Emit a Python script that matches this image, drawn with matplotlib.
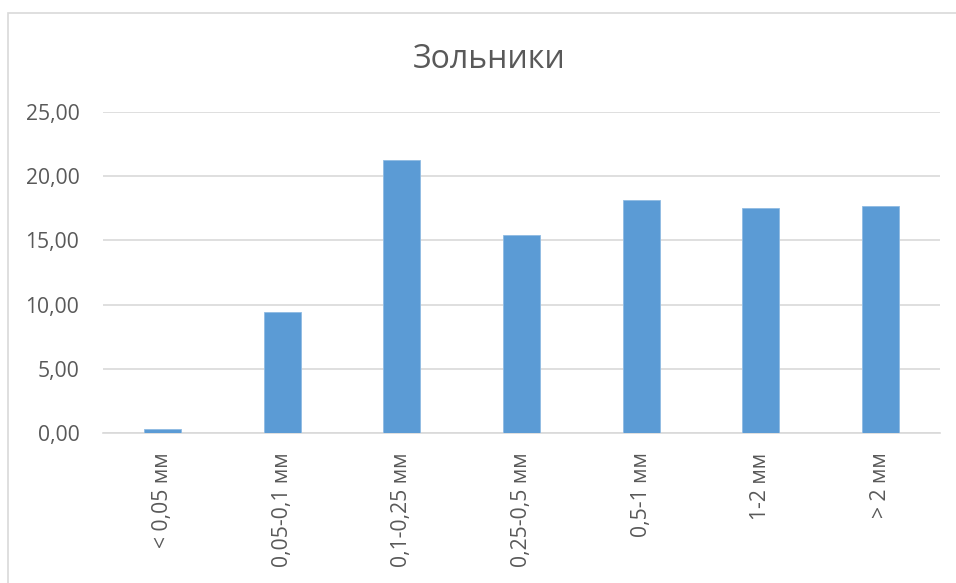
import matplotlib
matplotlib.use("Agg")
import matplotlib.pyplot as plt
from matplotlib.patches import Rectangle
from matplotlib.ticker import FuncFormatter, MultipleLocator

categories = ["< 0,05 мм", "0,05-0,1 мм", "0,1-0,25 мм", "0,25-0,5 мм",
              "0,5-1 мм", "1-2 мм", "> 2 мм"]
values = [0.31, 9.42, 21.28, 15.44, 18.17, 17.50, 17.70]
title = "Зольники"

plt.rcParams["font.family"] = ["Open Sans", "Noto Sans", "DejaVu Sans"]
text_color = "#595959"
grid_color = "#d9d9d9"
bar_color = "#5b9bd5"

fig = plt.figure(figsize=(9.56, 5.83), dpi=100)
fig.patch.set_facecolor("white")

# chart frame
fig.patches.append(Rectangle((8 / 956, -0.2), 1.2, 1.2 - 13 / 583,
                             transform=fig.transFigure, fill=False,
                             edgecolor=grid_color, linewidth=1.2))

ax = fig.add_axes([103 / 956, 1 - 433 / 583, 837 / 956, 321 / 583])
x = list(range(len(categories)))
ax.bar(x, values, width=0.31, color=bar_color, edgecolor="#8fbbe3",
       linewidth=0.6, zorder=3)

ax.set_xlim(-0.5, len(categories) - 0.5)
ax.set_ylim(0, 25)
ax.yaxis.set_major_locator(MultipleLocator(5))
ax.yaxis.set_major_formatter(FuncFormatter(lambda v, _: f"{v:.2f}".replace(".", ",")))
ax.grid(axis="y", color=grid_color, linewidth=1.2, zorder=0)
ax.set_axisbelow(True)

for side in ("top", "right", "left"):
    ax.spines[side].set_visible(False)
ax.spines["bottom"].set_color(grid_color)
ax.spines["bottom"].set_linewidth(1.2)

ax.set_xticks(x)
ax.set_xticklabels(categories, rotation=90, va="top", ha="center")
ax.tick_params(axis="x", length=0, pad=14, labelsize=15.2, labelcolor=text_color)
ax.tick_params(axis="y", length=0, pad=17, labelsize=15.2, labelcolor=text_color)

fig.text(489 / 956, 1 - 59 / 583, title, ha="center", va="center",
         fontsize=23, color=text_color)

fig.savefig("out.png", dpi=100, facecolor="white")
